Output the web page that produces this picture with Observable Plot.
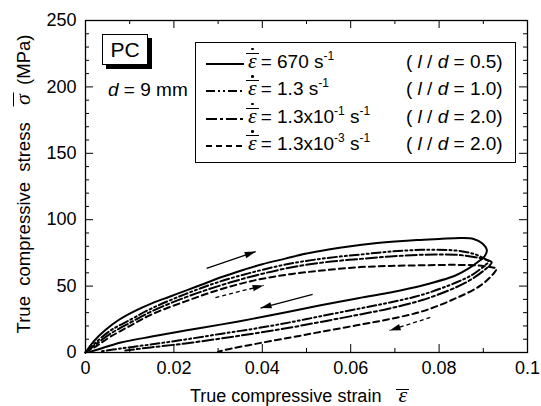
<!DOCTYPE html>
<html>
<head>
<meta charset="utf-8">
<script src="https://cdn.jsdelivr.net/npm/d3@7"></script>
<script src="https://cdn.jsdelivr.net/npm/@observablehq/plot@0.6"></script>
<style>
body{margin:0;background:#fff;color:#000;font-family:'Liberation Sans',Arial,sans-serif}
#wrap{position:relative;width:541px;height:406px;overflow:hidden;background:#fff}
.abs{position:absolute;white-space:nowrap;line-height:24px;font-size:19px}
.eps{position:relative;display:inline-block;font-family:'Liberation Serif','Times New Roman',serif;font-style:italic;font-size:22px;line-height:22px;padding:0 4px 0 2px}
.eps .bar{position:absolute;left:0;right:2px;top:3px;border-top:1.3px solid #000}
.eps .dot{position:absolute;left:50%;margin-left:-2px;top:-2px;width:2.6px;height:2.6px;border-radius:50%;background:#000}
.sup{font-size:12px;position:relative;top:-8px}
.it{font-style:italic}
</style>
</head>
<body>
<div id="wrap"></div>
<script>
// ---- data ----
const strain670 = [0, 0.002, 0.0045, 0.0075, 0.011, 0.015, 0.019, 0.023, 0.027, 0.031, 0.036, 0.040, 0.045, 0.050, 0.055, 0.060, 0.065, 0.070, 0.075, 0.080, 0.085, 0.0878, 0.0898, 0.0908, 0.0903, 0.0892, 0.0867, 0.0837, 0.0762, 0.0686, 0.0611, 0.0532, 0.0457, 0.038, 0.0305, 0.0226, 0.015, 0.008, 0.003, 0.001];
const stress670 = [0, 9, 17, 24.5, 31, 37, 42, 47, 52, 57, 62.5, 66.5, 70.5, 74.5, 77.5, 80, 82, 83.5, 84.7, 85.5, 86.2, 85.5, 82, 77, 72.5, 69.3, 63.3, 58, 50.5, 45, 40.5, 35.5, 30.5, 25.5, 21, 16.5, 12, 7.5, 2.5, 0.5];

const strain13 = [0, 0.0023, 0.0057, 0.0102, 0.0149, 0.0226, 0.0305, 0.0385, 0.0464, 0.0543, 0.0622, 0.069, 0.0762, 0.0837, 0.0876, 0.0898, 0.0912, 0.0905, 0.0876, 0.0837, 0.0762, 0.0686, 0.0611, 0.0532, 0.0464, 0.0385, 0.0305, 0.0226, 0.0147, 0.0079, 0.0034];
const stress13 = [0, 7.5, 16.6, 24.8, 33.1, 44, 53.5, 61, 67, 71, 73.8, 76, 77.3, 76.8, 74.5, 71.5, 68.5, 66, 58.7, 52.5, 43.5, 37.5, 32.5, 27.3, 22.8, 18.1, 14, 9.8, 6.0, 3.0, 0.8];

const strain013 = [0, 0.0023, 0.0057, 0.0102, 0.0149, 0.0226, 0.0305, 0.0385, 0.0464, 0.0543, 0.0622, 0.069, 0.0762, 0.0837, 0.0882, 0.0905, 0.0919, 0.0912, 0.0876, 0.0837, 0.0762, 0.0686, 0.0611, 0.0532, 0.0464, 0.0385, 0.0305, 0.0226, 0.0147, 0.009];
const stress013 = [0, 6, 14.3, 22.6, 30.9, 41.5, 50.5, 58, 64, 68, 70.5, 72.3, 73.6, 73.6, 71.8, 70, 67.8, 64.8, 55.7, 48.9, 39.5, 33, 28, 23, 18.8, 14.5, 10.5, 6.8, 3.8, 1.5];

const strain0013 = [0, 0.0023, 0.0057, 0.0102, 0.0149, 0.0226, 0.0305, 0.0385, 0.0464, 0.0543, 0.0622, 0.069, 0.0762, 0.0837, 0.0889, 0.0921, 0.093, 0.0925, 0.0894, 0.0837, 0.0762, 0.0686, 0.0611, 0.0532, 0.0464, 0.0385, 0.0317, 0.030];
const stress0013 = [0, 4.5, 12, 20.3, 28.6, 38.5, 47.5, 54.5, 59, 62, 64.3, 65.2, 65.7, 66, 65.5, 64, 63.3, 60.2, 50.5, 40.7, 31, 25, 20.3, 15.5, 11.3, 6.5, 2, 0.5];

// loading / unloading arrows
const arrowStrain1 = [0.0274, 0.0294, 0.0514, 0.078];
const arrowStress1 = [63.3, 41.4, 43.7, 26.4];
const arrowStrain2 = [0.0385, 0.0403, 0.0396, 0.0688];
const arrowStress2 = [76, 50.5, 33.5, 16.6];
const arrowDashed = [false, true, false, true];

// ticks
const xMajor = [0, 0.02, 0.04, 0.06, 0.08, 0.1];
const xMinor = [0.01, 0.03, 0.05, 0.07, 0.09];
const yMajor = [0, 50, 100, 150, 200, 250];
const yMinor = [10, 20, 30, 40, 60, 70, 80, 90, 110, 120, 130, 140, 160, 170, 180, 190, 210, 220, 230, 240];

// ---- layout ----
const W = 541, H = 406, mL = 85, mR = 14, mT = 20, mB = 54;
const pw = W - mL - mR, ph = H - mT - mB;
const kx = pw / 0.1, ky = ph / 250;

const dashes = {solid: null, ddot: "9,3,2,3,2,3", ddash: "11,3,3,3", dash: "6,4"};
const series = [
  {strain: strain670, stress: stress670, dash: dashes.solid},
  {strain: strain13, stress: stress13, dash: dashes.ddot},
  {strain: strain013, stress: stress013, dash: dashes.ddash},
  {strain: strain0013, stress: stress0013, dash: dashes.dash}
];
const toRows = s => s.strain.map((x, i) => ({x, y: s.stress[i]}));

const arrows = arrowStrain1.map((x1, i) => {
  const x2 = arrowStrain2[i], y1 = arrowStress1[i], y2 = arrowStress2[i];
  const ang = Math.atan2((x2 - x1) * kx, (y2 - y1) * ky) * 180 / Math.PI;
  return {x1, y1, x2, y2, dashed: arrowDashed[i], angle: ang};
});
const head = {draw(ctx) { ctx.moveTo(0, 0); ctx.lineTo(3.2, 11); ctx.lineTo(-3.2, 11); ctx.closePath(); }};

const marks = [];
series.forEach(s => {
  marks.push(Plot.line(toRows(s), {x: "x", y: "y", stroke: "black", strokeWidth: 2, strokeDasharray: s.dash, curve: "catmull-rom"}));
});
marks.push(Plot.link(arrows.filter(a => !a.dashed), {x1: "x1", y1: "y1", x2: "x2", y2: "y2", stroke: "black", strokeWidth: 1.3}));
marks.push(Plot.link(arrows.filter(a => a.dashed), {x1: "x1", y1: "y1", x2: "x2", y2: "y2", stroke: "black", strokeWidth: 1.3, strokeDasharray: "4,3"}));
marks.push(Plot.dot(arrows, {x: "x2", y: "y2", symbol: head, rotate: "angle", r: 5, fill: "black", stroke: "none"}));
// inward ticks on all four sides
marks.push(Plot.tickX(xMajor, {x: d => d, insetTop: ph - 8, stroke: "black"}));
marks.push(Plot.tickX(xMinor, {x: d => d, insetTop: ph - 4, stroke: "black"}));
marks.push(Plot.tickX(xMajor, {x: d => d, insetBottom: ph - 8, stroke: "black"}));
marks.push(Plot.tickX(xMinor, {x: d => d, insetBottom: ph - 4, stroke: "black"}));
marks.push(Plot.tickY(yMajor, {y: d => d, insetRight: pw - 8, stroke: "black"}));
marks.push(Plot.tickY(yMinor, {y: d => d, insetRight: pw - 4, stroke: "black"}));
marks.push(Plot.tickY(yMajor, {y: d => d, insetLeft: pw - 8, stroke: "black"}));
marks.push(Plot.tickY(yMinor, {y: d => d, insetLeft: pw - 4, stroke: "black"}));
marks.push(Plot.axisX({ticks: xMajor, tickSize: 0, tickPadding: 9, tickFormat: d => String(+d.toFixed(2)), label: null, fontSize: 18}));
marks.push(Plot.axisY({ticks: yMajor, tickSize: 0, tickPadding: 9, tickFormat: d => String(d), label: null, fontSize: 18}));
marks.push(Plot.frame({stroke: "black", strokeWidth: 1.3}));

const chart = Plot.plot({
  width: W, height: H,
  marginLeft: mL, marginRight: mR, marginTop: mT, marginBottom: mB,
  x: {domain: [0, 0.1]},
  y: {domain: [0, 250]},
  style: {fontFamily: "'Liberation Sans', Arial, sans-serif", fontSize: "18px", background: "white", color: "black", overflow: "visible"},
  marks
});
const wrap = document.getElementById("wrap");
wrap.appendChild(chart);

// ---- annotations: legend, labels ----
const epsHTML = (dot, extra = "") => `<span class="eps" style="${extra}">ε<span class="bar"></span>${dot ? '<span class="dot"></span>' : ''}</span>`;
const legendRates = [
  `= 670 s<span class="sup">-1</span>`,
  `= 1.3 s<span class="sup">-1</span>`,
  `= 1.3x10<span class="sup">-1</span> s<span class="sup">-1</span>`,
  `= 1.3x10<span class="sup">-3</span> s<span class="sup">-1</span>`
];
const legendRatio = ["0.5", "1.0", "2.0", "2.0"];
const legendDash = [dashes.solid, dashes.ddot, dashes.ddash, dashes.dash];
const rowY = [61.5, 89, 116.5, 144];

let html = `<div class="abs" style="left:195px;top:42px;width:321px;height:121px;border:1.3px solid #000;box-sizing:border-box;background:#fff"></div>`;
html += `<div class="abs" style="left:102px;top:34px;width:46px;height:31px;border:1.3px solid #000;box-sizing:border-box;background:#fff;box-shadow:4px 4px 0 #000;font-size:21px;line-height:29px;text-align:center">PC</div>`;
html += `<div class="abs" style="left:108px;top:${90-12}px"><span class="it">d</span> = 9 mm</div>`;
rowY.forEach((c, i) => {
  html += `<svg class="abs" style="left:206px;top:${c - 1}px" width="38" height="6"><line x1="0" y1="3" x2="38" y2="3" stroke="black" stroke-width="2" ${legendDash[i] ? `stroke-dasharray="${legendDash[i]}"` : ''}/></svg>`;
  html += `<div class="abs" style="left:246px;top:${c - 12}px">${epsHTML(true)}${legendRates[i]}</div>`;
  html += `<div class="abs" style="left:406px;top:${c - 12}px">( <span class="it">l</span> / <span class="it">d</span> = ${legendRatio[i]})</div>`;
});
html += `<div class="abs" style="left:190px;top:386px;font-size:18px;line-height:18px;height:18px">True compressive strain&nbsp;&nbsp;&nbsp;${epsHTML(false, "line-height:18px")}</div>`;
html += `<div class="abs" style="left:24px;top:184px;font-size:18.5px;transform:translate(-50%,-50%) rotate(-90deg)">True&nbsp;&nbsp;compressive&nbsp;&nbsp;stress&nbsp;&nbsp;&nbsp;<span class="eps" style="font-size:22px">σ<span class="bar" style="top:1px"></span></span>&nbsp;(MPa)</div>`;
wrap.insertAdjacentHTML("beforeend", html);
</script>
</body>
</html>
